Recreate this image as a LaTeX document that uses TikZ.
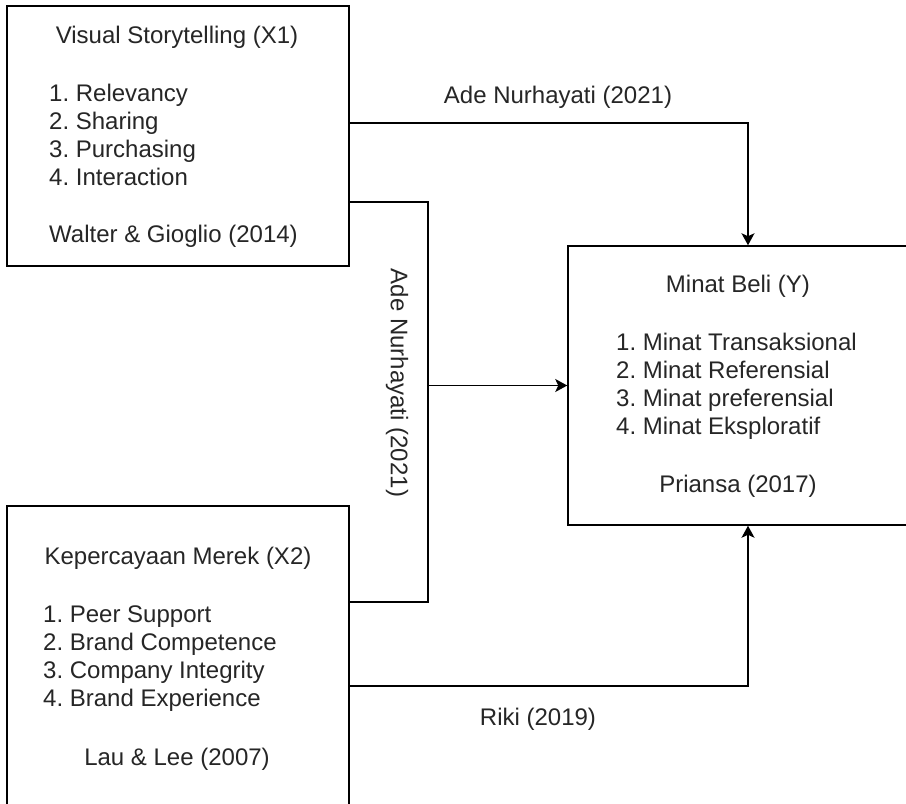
\documentclass[tikz,border=0pt]{standalone}
\usepackage{fontspec}
\setmainfont{Liberation Sans}
\usetikzlibrary{arrows.meta}
\frenchspacing
\begin{document}
\begin{tikzpicture}[x=1pt,y=-1pt,
  box/.style={draw=black, line width=1.5pt, rectangle, inner sep=0pt},
  txt/.style={inner sep=0pt, text=black!85, font=\fontsize{24}{28}\selectfont\frenchspacing},
  listtxt/.style={txt, align=left, anchor=base west},
  ctxt/.style={txt, anchor=base},
  conn/.style={line width=1.5pt, draw=black},
  arr/.style={conn, -{Stealth[length=12pt,width=13pt,inset=3pt]}}
]
\useasboundingbox (0,0) rectangle (906,804);
\clip (0,0) rectangle (906,804);
\fill[white] (0,0) rectangle (906,804);

% boxes
\node[box, minimum width=342pt, minimum height=260pt] (x1) at (178,136) {};
\node[box, minimum width=342pt, minimum height=324pt] (x2) at (178,668) {};
\node[box, minimum width=340pt, minimum height=279pt] (y) at (738,385.5) {};

% box X1 texts (list anchored at the baseline of its last line)
\node[ctxt] (x1t) at (177,43) {Visual Storytelling (X1)};
\node[listtxt] (x1l) at (49,185) {1. Relevancy\\2. Sharing\\3. Purchasing\\4. Interaction};
\node[listtxt] (x1c) at (49,242) {Walter \& Gioglio (2014)};

% box X2 texts
\node[ctxt] (x2t) at (178,564) {Kepercayaan Merek (X2)};
\node[listtxt] (x2l) at (43,706) {1. Peer Support\\2. Brand Competence\\3. Company Integrity\\4. Brand Experience};
\node[ctxt] (x2c) at (177,765) {Lau \& Lee (2007)};

% box Y texts
\node[ctxt] (yt) at (738,292) {Minat Beli (Y)};
\node[listtxt] (yl) at (616,434) {1. Minat Transaksional\\2. Minat Referensial\\3. Minat preferensial\\4. Minat Eksploratif};
\node[ctxt] (yc) at (738,492) {Priansa (2017)};

% connectors
\coordinate (t1) at (748,123);
\draw[arr] (x1.east |- t1) -- (t1) -- (y.north -| t1);

\coordinate (m1) at (428,202);
\coordinate (m2) at (428,602);
\draw[conn] (x1.east |- m1) -- (m1) -- (m2) -- (x2.east |- m2);
\draw[arr] (m1 |- y.west) -- (y.west);

\coordinate (b1) at (748,686);
\draw[arr] (x2.east |- b1) -- (b1) -- (y.south -| b1);

% labels
\node[ctxt] (l1) at (558,103) {Ade Nurhayati (2021)};
\node[txt, rotate=-90] (l2) at (397,383) {Ade Nurhayati (2021)};
\node[ctxt] (l3) at (538,725) {Riki (2019)};
\end{tikzpicture}
\end{document}
